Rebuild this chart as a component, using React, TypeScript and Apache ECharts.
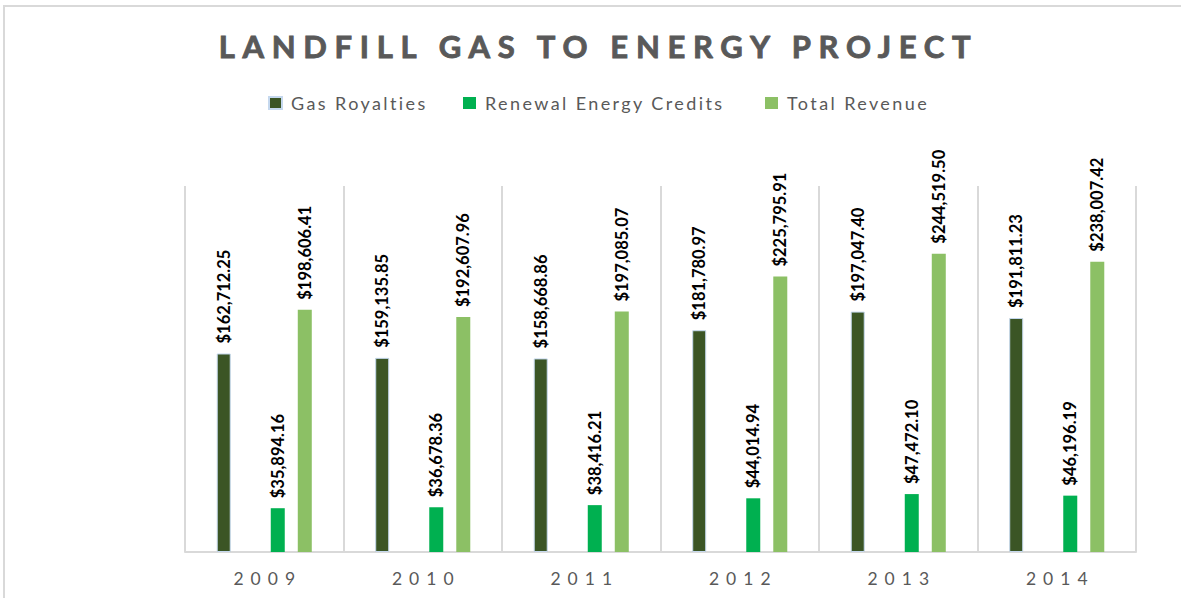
import React, { useEffect, useRef } from "react";
import * as echarts from "echarts";

const categories = ["2009", "2010", "2011", "2012", "2013", "2014"];
const gasRoyalties = [162712.25, 159135.85, 158668.86, 181780.97, 197047.4, 191811.23];
const renewalCredits = [35894.16, 36678.36, 38416.21, 44014.94, 47472.1, 46196.19];
const totalRevenue = [198606.41, 192607.96, 197085.07, 225795.91, 244519.5, 238007.42];
const seriesNames = ["Gas Royalties", "Renewal Energy Credits", "Total Revenue"];
const titleText = "LANDFILL GAS TO ENERGY PROJECT";

const fmt = (v: number) =>
  "$" + v.toLocaleString("en-US", { minimumFractionDigits: 2, maximumFractionDigits: 2 });

const labelCfg = {
  show: true,
  position: "top",
  rotate: 90,
  align: "left",
  verticalAlign: "middle",
  distance: 10,
  fontFamily: "Lato",
  fontSize: 16.5,
  fontWeight: "bold",
  color: "#000000",
  formatter: (p: any) => fmt(p.value),
};

export default function App() {
  const ref = useRef<HTMLDivElement>(null);
  useEffect(() => {
    document.body.style.margin = "0";
    const chart = echarts.init(ref.current!, undefined, { renderer: "svg" });
    const legendBase = {
      top: 94,
      padding: 0,
      itemWidth: 13,
      itemHeight: 12,
      icon: "rect",
      textStyle: { fontFamily: "Lato", fontSize: 18, color: "#595959", padding: [0, 0, 0, 4] },
    };
    chart.setOption({
      animation: false,
      backgroundColor: "#ffffff",
      graphic: [
        {
          type: "rect",
          silent: true,
          shape: { x: 4, y: 6, width: 1300, height: 700 },
          style: { fill: "none", stroke: "#d9d9d9", lineWidth: 2 },
        },
        {
          type: "text",
          x: 598.5,
          y: 46,
          style: {
            text: titleText,
            fontFamily: "Lato",
            fontSize: 31,
            fontWeight: "bold",
            fill: "#595959",
            stroke: "#595959",
            lineWidth: 0.9,
            align: "center",
            verticalAlign: "middle",
          },
        },
      ],
      legend: [
        { ...legendBase, left: 268, data: [seriesNames[0]] },
        { ...legendBase, left: 463, data: [seriesNames[1]] },
        { ...legendBase, left: 765, data: [seriesNames[2]] },
      ],
      grid: { left: 185, right: 45, top: 186, bottom: 46 },
      xAxis: {
        type: "category",
        data: categories,
        axisLine: { show: true, lineStyle: { color: "#d9d9d9", width: 2 } },
        axisTick: { show: false },
        splitLine: { show: true, lineStyle: { color: "#d9d9d9", width: 2 } },
        axisLabel: {
          fontFamily: "Lato",
          fontSize: 17.5,
          color: "#595959",
          margin: 17,
          padding: [0, 0, 0, 7],
        },
      },
      yAxis: {
        type: "value",
        min: 0,
        max: 300000,
        show: false,
        splitLine: { show: false },
      },
      series: [
        {
          name: seriesNames[0],
          type: "bar",
          data: gasRoyalties,
          barWidth: 14,
          barGap: "93%",
          itemStyle: { color: "#3b5525", borderColor: "#c5d8ee", borderWidth: 1 },
          label: labelCfg,
        },
        {
          name: "spacer",
          type: "bar",
          data: [],
          barWidth: 14,
          barGap: "93%",
        },
        {
          name: seriesNames[1],
          type: "bar",
          data: renewalCredits,
          barWidth: 14,
          barGap: "93%",
          itemStyle: { color: "#00b050" },
          label: labelCfg,
        },
        {
          name: seriesNames[2],
          type: "bar",
          data: totalRevenue,
          barWidth: 14,
          barGap: "93%",
          itemStyle: { color: "#8cc065" },
          label: labelCfg,
        },
      ],
    });
    return () => chart.dispose();
  }, []);
  return (
    <>
      <style>{`
        #chart text[style*="31px"] { letter-spacing: 7.7px; }
        #chart text[style*="18px"] { letter-spacing: 2.4px; }
        #chart text[style*="17.5px"] { letter-spacing: 7px; }
      `}</style>
      <div id="chart" ref={ref} style={{ width: 1181, height: 598 }} />
    </>
  );
}
